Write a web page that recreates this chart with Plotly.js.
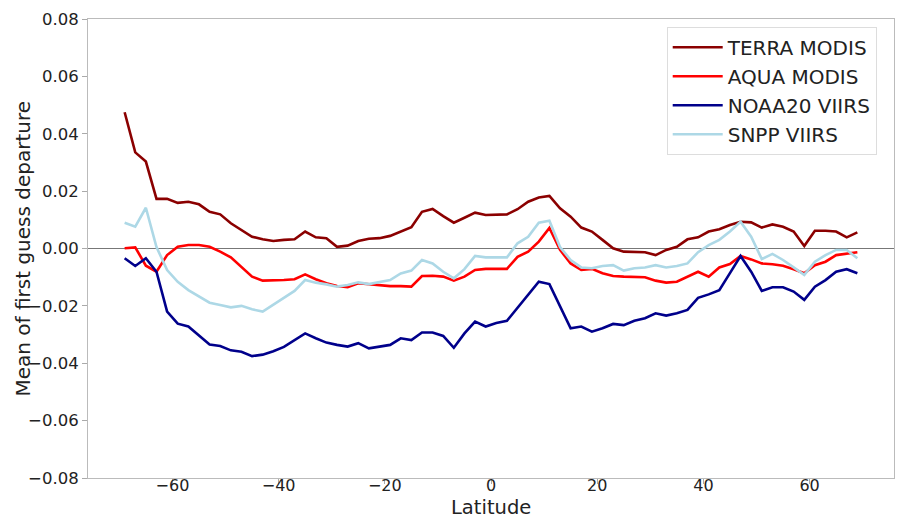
<!DOCTYPE html>
<html>
<head>
<meta charset="utf-8">
<script src="https://cdn.plot.ly/plotly-3.0.1.min.js"></script>
<style>
  html, body { margin: 0; padding: 0; background: #fff; }
  #chart { width: 899px; height: 519px; }
</style>
</head>
<body>
<div id="chart"></div>
<script>
// Latitude bin centres
const latitude = [-69,-67,-65,-63,-61,-59,-57,-55,-53,-51,-49,-47,-45,-43,-41,-39,-37,-35,-33,-31,
  -29,-27,-25,-23,-21,-19,-17,-15,-13,-11,-9,-7,-5,-3,-1,1,3,5,7,9,11,13,15,17,19,21,23,25,27,29,
  31,33,35,37,39,41,43,45,47,49,51,53,55,57,59,61,63,65,67,69];

const terraModis = [0.0475,0.0335,0.0303,0.0173,0.0173,0.0159,0.0163,0.0154,0.0128,0.0119,0.0088,0.0064,0.0041,0.0032,0.0026,0.0030,
  0.0032,0.0059,0.0039,0.0036,0.0006,0.0010,0.0026,0.0034,0.0036,0.0044,0.0059,0.0074,0.0128,0.0138,0.0113,0.0090,0.0107,0.0125,0.0117,
  0.0118,
  0.0119,0.0137,0.0163,0.0178,0.0183,0.0140,0.0111,0.0073,0.0059,0.0030,0.0001,-0.0011,-0.0013,-0.0013,-0.0023,-0.0005,0.0006,0.0032,0.0039,
  0.0059,0.0067,0.0082,0.0093,0.0091,0.0073,0.0084,0.0076,0.0059,0.0009,0.0062,0.0062,0.0059,0.0039,0.0056];

const aquaModis = [0.0001,0.0004,-0.0060,-0.0081,-0.0023,0.0006,0.0012,0.0012,0.0006,-0.0011,-0.0031,-0.0063,-0.0098,-0.0112,-0.0112,-0.0110,
  -0.0107,-0.0090,-0.0107,-0.0121,-0.0131,-0.0135,-0.0121,-0.0124,-0.0127,-0.0131,-0.0131,-0.0133,-0.0096,-0.0095,-0.0098,-0.0112,-0.0098,-0.0075,-0.0071,
  -0.0072,
  -0.0071,-0.0029,-0.0011,0.0024,0.0072,-0.0005,-0.0052,-0.0075,-0.0071,-0.0086,-0.0096,-0.0098,-0.0100,-0.0100,-0.0112,-0.0119,-0.0116,-0.0098,-0.0081,
  -0.0098,-0.0066,-0.0054,-0.0026,-0.0038,-0.0052,-0.0055,-0.0060,-0.0072,-0.0086,-0.0058,-0.0046,-0.0023,-0.0017,-0.0013];

const noaa20Viirs = [-0.0034,-0.0061,-0.0034,-0.0081,-0.0220,-0.0262,-0.0272,-0.0305,-0.0335,-0.0340,-0.0355,-0.0360,-0.0375,-0.0370,-0.0358,-0.0343,
  -0.0319,-0.0296,-0.0313,-0.0328,-0.0336,-0.0342,-0.0330,-0.0348,-0.0342,-0.0336,-0.0313,-0.0319,-0.0293,-0.0293,-0.0305,-0.0346,-0.0296,-0.0255,-0.0272,
  -0.0260,
  -0.0252,-0.0208,-0.0162,-0.0116,-0.0124,-0.0200,-0.0278,-0.0272,-0.0290,-0.0278,-0.0263,-0.0267,-0.0252,-0.0243,-0.0226,-0.0234,-0.0226,-0.0214,-0.0172,
  -0.0160,-0.0145,-0.0086,-0.0026,-0.0081,-0.0148,-0.0135,-0.0135,-0.0150,-0.0179,-0.0133,-0.0110,-0.0081,-0.0072,-0.0086];

const snppViirs = [0.0090,0.0076,0.0142,0.0005,-0.0075,-0.0116,-0.0145,-0.0168,-0.0189,-0.0197,-0.0205,-0.0200,-0.0212,-0.0220,-0.0195,-0.0170,
  -0.0148,-0.0110,-0.0119,-0.0125,-0.0133,-0.0127,-0.0118,-0.0124,-0.0116,-0.0110,-0.0087,-0.0077,-0.0040,-0.0052,-0.0081,-0.0104,-0.0072,-0.0026,-0.0031,
  -0.0031,
  -0.0031,0.0018,0.0041,0.0090,0.0097,0.0005,-0.0040,-0.0066,-0.0069,-0.0061,-0.0058,-0.0077,-0.0069,-0.0066,-0.0058,-0.0066,-0.0061,-0.0052,-0.0013,
  0.0012,0.0030,0.0059,0.0093,0.0041,-0.0037,-0.0019,-0.0040,-0.0066,-0.0092,-0.0046,-0.0023,-0.0005,-0.0005,-0.0034];

const seriesNames = ['TERRA MODIS', 'AQUA MODIS', 'NOAA20 VIIRS', 'SNPP VIIRS'];
const seriesData = [terraModis, aquaModis, noaa20Viirs, snppViirs];
const seriesColors = ['#8b0000', '#ff0000', '#00008b', '#add8e6'];

const yTicks = [-0.08, -0.06, -0.04, -0.02, 0.00, 0.02, 0.04, 0.06, 0.08];
const xTicks = [-60, -40, -20, 0, 20, 40, 60];

const traces = seriesData.map((vals, i) => ({
  x: latitude,
  y: vals,
  type: 'scatter',
  mode: 'lines',
  name: seriesNames[i],
  line: { color: seriesColors[i], width: 2.6 }
}));

const font = 'DejaVu Sans, sans-serif';
const layout = {
  width: 899,
  height: 519,
  margin: { l: 88, r: 5, t: 19, b: 41 },
  paper_bgcolor: '#ffffff',
  plot_bgcolor: '#ffffff',
  font: { family: font, color: '#222' },
  showlegend: true,
  legend: {
    x: 0.718, y: 0.983, xanchor: 'left', yanchor: 'top',
    bgcolor: 'rgba(255,255,255,0.85)',
    bordercolor: '#dddddd', borderwidth: 1,
    itemwidth: 50,
    font: { family: font, size: 20, color: '#222' }
  },
  xaxis: {
    range: [-75.9, 75.9],
    tickvals: xTicks,
    ticktext: xTicks.map(v => v < 0 ? '\u2212' + Math.abs(v) : String(v)),
    ticks: 'outside', ticklen: 5, tickcolor: '#aaa', tickwidth: 1,
    ticklabelstandoff: -12,
    showline: true, mirror: true, linecolor: '#bbb', linewidth: 1,
    showgrid: false, zeroline: false,
    tickfont: { family: font, size: 16, color: '#222' }
  },
  yaxis: {
    range: [-0.08, 0.08],
    tickvals: yTicks,
    ticktext: yTicks.map(v => (v < 0 ? '\u2212' : '') + Math.abs(v).toFixed(2)),
    ticks: 'outside', ticklen: 5, tickcolor: '#aaa', tickwidth: 1,
    showline: true, mirror: true, linecolor: '#bbb', linewidth: 1,
    showgrid: false,
    zeroline: true, zerolinecolor: '#777', zerolinewidth: 1.5,
    tickfont: { family: font, size: 16.5, color: '#222' }
  },
  annotations: [{
    text: 'Mean of first guess departure',
    xref: 'paper', yref: 'paper',
    x: (22 - 88) / 806, y: 0.5,
    xanchor: 'center', yanchor: 'middle',
    textangle: -90, showarrow: false,
    font: { family: font, size: 20, color: '#222' }
  }, {
    text: 'Latitude',
    xref: 'paper', yref: 'paper',
    x: 0.5, y: (478 - 507.5) / 459,
    xanchor: 'center', yanchor: 'middle',
    showarrow: false, borderpad: 0,
    font: { family: font, size: 19.5, color: '#222' }
  }]
};

Plotly.newPlot('chart', traces, layout, { displayModeBar: false, staticPlot: true });
</script>
</body>
</html>
